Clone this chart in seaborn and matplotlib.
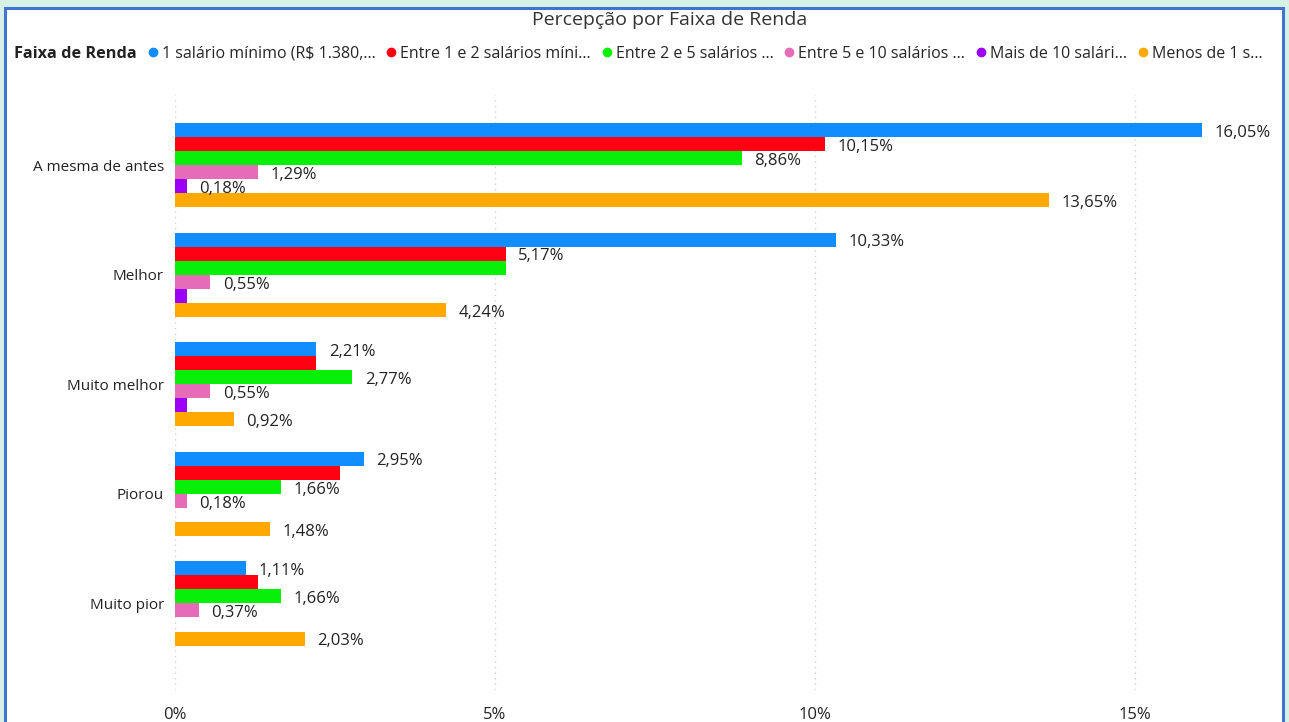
import matplotlib
matplotlib.use("Agg")
import matplotlib.pyplot as plt
from matplotlib.lines import Line2D
from matplotlib.patches import Rectangle
import seaborn as sns
import pandas as pd

# ---------------- data ----------------
categories = ["A mesma de antes", "Melhor", "Muito melhor", "Piorou", "Muito pior"]
series_names = [
    "1 salário mínimo (R$ 1.380,...",
    "Entre 1 e 2 salários míni...",
    "Entre 2 e 5 salários ...",
    "Entre 5 e 10 salários ...",
    "Mais de 10 salári...",
    "Menos de 1 s...",
]
sal_1 = [16.05, 10.33, 2.21, 2.95, 1.11]
entre_1_2 = [10.15, 5.17, 2.21, 2.58, 1.29]
entre_2_5 = [8.86, 5.17, 2.77, 1.66, 1.66]
entre_5_10 = [1.29, 0.55, 0.55, 0.18, 0.37]
mais_10 = [0.18, 0.18, 0.18, 0.0, 0.0]
menos_1 = [13.65, 4.24, 0.92, 1.48, 2.03]

# which data labels are visible in the original (True = shown)
show_sal_1 = [True, True, True, True, True]
show_entre_1_2 = [True, True, False, False, False]
show_entre_2_5 = [True, False, True, True, True]
show_entre_5_10 = [True, True, True, True, True]
show_mais_10 = [True, False, False, False, False]
show_menos_1 = [True, True, True, True, True]

x_ticks = [0, 5, 10, 15]
x_tick_labels = ["0%", "5%", "10%", "15%"]

title = "Percepção por Faixa de Renda"
legend_title = "Faixa de Renda"

colors = ["#118DFF", "#FF0012", "#08F008", "#E66CBA", "#9B00F5", "#FFA800"]

# ---------------- build long table ----------------
values = [sal_1, entre_1_2, entre_2_5, entre_5_10, mais_10, menos_1]
shows = [show_sal_1, show_entre_1_2, show_entre_2_5, show_entre_5_10, show_mais_10, show_menos_1]
rows = []
for name, vals in zip(series_names, values):
    for c, v in zip(categories, vals):
        rows.append({"Categoria": c, "Faixa": name, "Valor": v})
df = pd.DataFrame(rows)

sns.set_theme(style="white")
plt.rcParams["font.family"] = ["Open Sans", "DejaVu Sans"]

W, H = 1289, 722
fig = plt.figure(figsize=(W / 100, H / 100), dpi=100)
fig.patch.set_facecolor("#d6f1e6")

# white card with blue border
card = Rectangle((5 / W, -0.05), (1283 - 5) / W, (H - 8) / H + 0.05,
                 transform=fig.transFigure, facecolor="white",
                 edgecolor="#3f74cf", linewidth=2.2, zorder=-5)
fig.patches.append(card)

left, right, top, bottom = 175, 1263, 95, 690
ax = fig.add_axes([left / W, 1 - bottom / H, (right - left) / W, (bottom - top) / H])
ax.set_zorder(2)
ax.set_facecolor("none")

sns.barplot(data=df, y="Categoria", x="Valor", hue="Faixa", orient="h",
            order=categories, hue_order=series_names, palette=colors,
            width=0.77, dodge=True, saturation=1, legend=False,
            linewidth=0, ax=ax)

for cont, vals, show in zip(ax.containers, values, shows):
    labs = [(f"{v:.2f}%".replace(".", ",") if s else "") for v, s in zip(vals, show)]
    texts = ax.bar_label(cont, labels=labs, padding=9, fontsize=12, color="#222222")
    for t in texts:
        t.xyann = (t.xyann[0], -2)

ax.set_xlim(0, 17)
ax.set_ylim(4.79, -0.64)
ax.set_xticks(x_ticks)
ax.set_xticklabels(x_tick_labels, fontsize=12, color="#222222")
ax.tick_params(axis="x", length=0, pad=12)
ax.tick_params(axis="y", length=0, pad=8, labelsize=11, labelcolor="#222222")
ax.set_xlabel("")
ax.set_ylabel("")
ax.grid(axis="x", color="#cfcfcf", linestyle=(0, (1, 3)), linewidth=1)
ax.set_axisbelow(True)
for s in ax.spines.values():
    s.set_visible(False)

fig.text(670 / W, 1 - 20 / H, title, ha="center", va="center", fontsize=14, color="#333333")
fig.text(14 / W, 1 - 54 / H, legend_title, ha="left", va="center", fontsize=11.7,
         fontweight="bold", color="#222222")

handles = [Line2D([], [], marker="o", linestyle="", color=c, markersize=6) for c in colors]
fig.legend(handles, series_names, ncol=6, loc="center left",
           bbox_to_anchor=(145 / W, 1 - 54 / H), frameon=False,
           fontsize=11.5, handletextpad=0.05, columnspacing=0.5,
           handlelength=1.0, borderaxespad=0, borderpad=0)

fig.savefig("out.png", dpi=100, facecolor=fig.get_facecolor())
